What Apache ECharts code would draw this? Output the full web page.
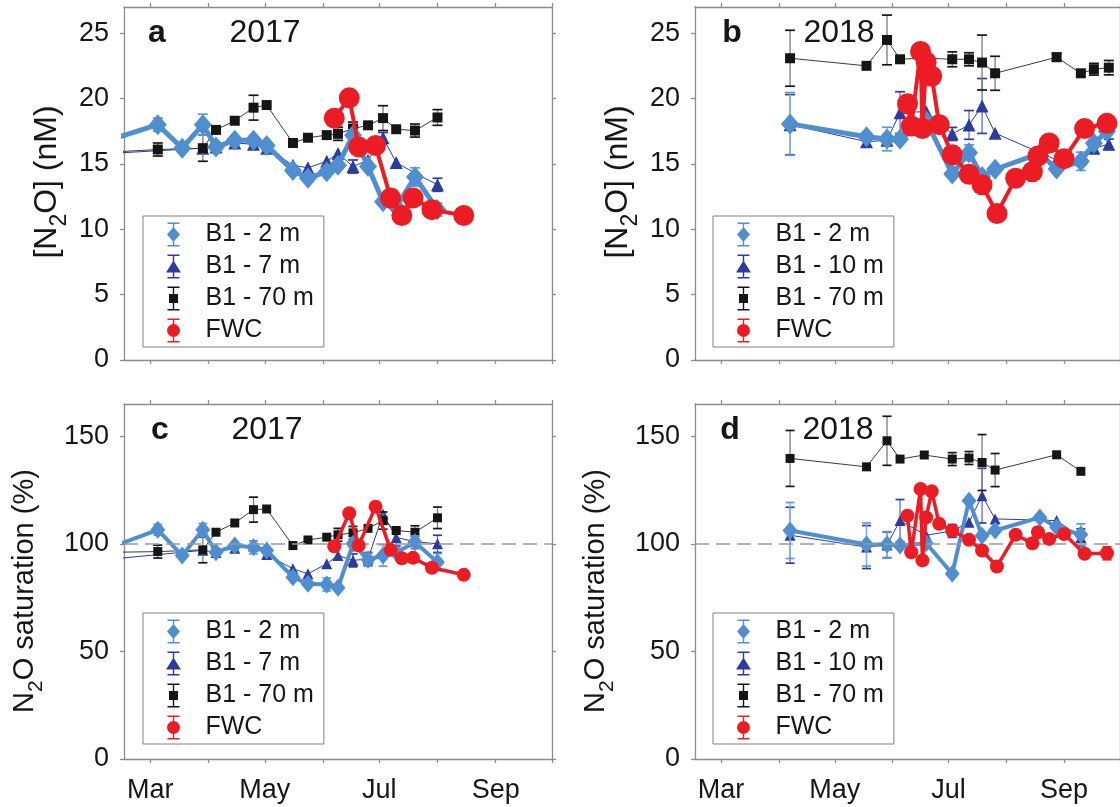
<!DOCTYPE html>
<html>
<head>
<meta charset="utf-8">
<script src="https://cdn.jsdelivr.net/npm/echarts@6/dist/echarts.min.js"></script>
<style>
  html, body { margin: 0; padding: 0; background: #fff; }
  #chart { width: 1120px; height: 807px; }
</style>
</head>
<body>
<div id="chart"></div>
<script>
// ---- Axis ticks ----
const monthTickDates = ['03-01', '04-01', '05-01', '06-01', '07-01', '08-01', '09-01', '10-01'];
const monthLabelDates = ['03-01', '05-01', '07-01', '09-01'];
const monthLabels = ['Mar', 'May', 'Jul', 'Sep'];
const concTicks = [0, 5, 10, 15, 20, 25];
const satTicks = [0, 50, 100, 150];

// ---- 2017, station B1 2 m ----
const dates17_2m = ['01-20', '03-05', '03-18', '03-29', '04-05', '04-15', '04-25', '05-02', '05-16', '05-24', '06-03', '06-09', '06-17', '06-25', '07-03', '07-10', '07-20', '08-01'];
const conc17_2m = [16.0, 18.0, 16.2, 18.0, 16.3, 16.8, 16.8, 16.4, 14.5, 13.9, 14.4, 14.9, 17.2, 14.8, 12.1, 11.7, 14.0, 11.5];
const concErr17_2m = [0, 0.5, 0.3, 0.8, 0, 0, 0, 0, 0, 0, 0, 0, 0.4, 0, 0, 0, 0.7, 0.5];
const sat17_2m = [92.3, 106.5, 94.6, 106.5, 96.1, 99.2, 98.4, 96.9, 84.5, 81.4, 81.1, 79.6, 100.0, 92.6, 94.6, 96.0, 100.7, 91.5];
const satErr17_2m = [0, 2.5, 0, 3, 0, 0, 3, 0, 0, 0, 3, 0, 0, 3, 5, 0, 3, 4];

// ---- 2017, station B1 7 m ----
const dates17_7m = ['01-20', '03-29', '04-05', '04-15', '04-25', '05-02', '05-16', '05-24', '06-03', '06-09', '06-17', '06-25', '07-03', '07-10', '07-20', '08-01'];
const conc17_7m = [15.65, 16.2, 16.3, 16.6, 16.5, 16.2, 14.9, 14.7, 15.2, 15.8, 14.8, 15.3, 17.0, 15.1, 14.3, 13.4];
const concErr17_7m = [0, 0, 0, 0, 0, 0, 0, 0, 0, 0, 0.5, 0, 0.4, 0, 0, 0.5];
const sat17_7m = [91.3, 97, 96, 98, 99, 95, 88.4, 86.1, 90.7, 94.6, 92.3, 93, 113.9, 103, 101, 100];
const satErr17_7m = [0, 0, 0, 0, 0, 0, 0, 0, 0, 0, 3, 3, 0, 4, 0, 4];

// ---- 2017, station B1 70 m ----
const dates17_70m = ['01-20', '03-05', '03-29', '04-05', '04-15', '04-25', '05-02', '05-16', '05-24', '06-03', '06-09', '06-17', '06-25', '07-03', '07-10', '07-20', '08-01'];
const conc17_70m = [15.75, 16.1, 16.2, 17.6, 18.3, 19.3, 19.5, 16.6, 17.0, 17.2, 17.3, 17.7, 17.95, 18.5, 17.65, 17.55, 18.55];
const concErr17_70m = [0, 0.5, 1.0, 0, 0, 0.95, 0, 0, 0, 0, 0.5, 0.5, 0, 0.95, 0, 0.5, 0.6];
const sat17_70m = [95.8, 96.4, 97.2, 105.4, 109.7, 115.9, 116.2, 99.2, 101.8, 103.1, 104.2, 105.1, 107.2, 110.8, 106.2, 105.4, 112.1];
const satErr17_70m = [0, 3, 6, 0, 0, 5.8, 0, 0, 0, 0, 3, 3, 0, 4, 0, 3, 5];

// ---- 2017, FWC ----
const datesFwc17 = ['06-07', '06-15', '06-20', '06-29', '07-07', '07-13', '07-19', '07-29', '08-15'];
const concFwc17 = [18.5, 20.05, 16.3, 16.4, 12.4, 11.05, 12.4, 11.5, 11.05];
const concErrFwc17 = [0, 0, 0, 0, 0, 0, 0, 0, 0];
const satFwc17 = [98.9, 114.2, 99.2, 117.3, 97.2, 93.3, 93.5, 88.9, 85.6];
const satErrFwc17 = [0, 0, 0, 0, 0, 0, 0, 0, 0];

// ---- 2018, station B1 2 m ----
const dates18_2m = ['04-07', '05-18', '05-29', '06-05', '06-19', '07-03', '07-12', '07-19', '07-26', '08-19', '08-28', '09-10', '09-17', '09-24'];
const conc18_2m = [18.06, 17.08, 16.9, 16.88, 18.3, 14.23, 15.86, 14.03, 14.59, 15.8, 14.6, 15.2, 16.58, 17.47];
const concErr18_2m = [2.4, 0, 0.9, 0, 0, 0, 0.6, 0, 0, 0, 0, 0.7, 0, 0];
const sat18_2m = [106.2, 99.7, 99.7, 99.2, 100.3, 86.1, 120, 103.8, 106.2, 112.3, 107.7, 104.3, null, null];
const satErr18_2m = [13, 10, 6, 0, 0, 0, 0, 0, 0, 0, 0, 5, 0, 0];

// ---- 2018, station B1 10 m ----
const dates18_10m = ['04-07', '05-18', '05-29', '06-05', '06-19', '07-03', '07-12', '07-19', '07-26', '08-28', '09-10', '09-17', '09-25'];
const conc18_10m = [18.0, 16.7, 16.8, 18.92, 19.0, 17.29, 17.98, 19.43, 17.35, 15.3, 15.4, 16.2, 16.5];
const concErr18_10m = [2.3, 0, 0, 1.6, 0, 0.5, 1.1, 2.1, 0, 0, 0, 0, 0.4];
const sat18_10m = [104, 98.5, 99.5, 110.8, 104, 106, 110, 122.4, 111.6, 110.8, 103, null, null];
const satErr18_10m = [13, 10, 6, 9.8, 0, 3, 0, 12.7, 0, 0, 4, 0, 0];

// ---- 2018, station B1 70 m ----
const dates18_70m = ['04-07', '05-18', '05-29', '06-05', '06-18', '07-03', '07-12', '07-19', '07-26', '08-28', '09-10', '09-17', '09-25'];
const conc18_70m = [23.08, 22.5, 24.48, 23.0, 23.1, 23.0, 23.0, 22.75, 21.93, 23.16, 21.93, 22.24, 22.36];
const concErr18_70m = [2.14, 0, 1.9, 0, 0, 0.57, 0.5, 2.1, 1.3, 0.3, 0, 0.45, 0.55];
const sat18_70m = [139.7, 135.8, 147.9, 139.4, 141.3, 139.4, 139.9, 137.8, 134.3, 141.4, 133.7, null, null];
const satErr18_70m = [13, 0, 11.4, 0, 0, 3, 3, 13, 7.7, 0, 0, 0, 0];

// ---- 2018, FWC ----
const datesFwc18 = ['06-09', '06-11', '06-16', '06-17', '06-19', '06-22', '06-26', '07-03', '07-12', '07-19', '07-27', '08-06', '08-15', '08-18', '08-24', '09-01', '09-12', '09-24'];
const concFwc18 = [19.6, 17.9, 23.6, 17.7, 22.8, 21.7, 18.0, 15.7, 14.2, 13.4, 11.2, 13.9, 14.4, 15.6, 16.6, 15.4, 17.7, 18.1];
const concErrFwc18 = [0, 0, 0, 0, 0, 0, 0, 0, 0, 0, 0, 0, 0, 0, 0, 0, 0, 0.5];
const satFwc18 = [113.1, 96.1, 125.5, 92.3, 112.3, 124.4, 109.3, 106.2, 101.9, 96.9, 89.5, 104.2, 100.3, 105.4, 102.3, 104.6, 95.4, 95.6];
const satErrFwc18 = [0, 0, 0, 0, 0, 0, 0, 0, 0, 0, 2, 0, 0, 0, 0, 0, 0, 3];

// ---- helpers ----
const FONT = '"Liberation Sans", Arial, Helvetica, sans-serif';
const TEXT = '#161616';
const FRAME = '#8c8c8c';
const cumDays = [0, 31, 59, 90, 120, 151, 181, 212, 243, 273, 304, 334];
const doy = md => { const [m, d] = md.split('-').map(Number); return cumDays[m - 1] + d; };

const xMin = doy('02-15');
const xMax = doy('10-01');
const tickDays = monthTickDates.map(doy);
const labelDays = monthLabelDates.map(doy);

const STYLE = {
  s7:  { z: 2, color: '#2b3c9e', errStem: '#5d6fc4', errCap: '#2b3c9e', symbol: 'triangle',
         top: { size: 13, width: 1 }, bottom: { size: 11, width: 1 } },
  s70: { z: 3, color: '#151515', line: '#3a3a3a', errStem: '#7a7a7a', errCap: '#151515', symbol: 'rect',
         top: { size: 10, width: 1 }, bottom: { size: 9, width: 1 } },
  s2:  { z: 4, color: '#4f8fd0', errStem: '#86b6e4', errCap: '#5b9bd5', symbol: 'diamond',
         top: { size: [18, 21], width: 5 }, bottom: { size: [15, 18], width: 4 } },
  fwc: { z: 5, color: '#ec1c24', errStem: '#ec1c24', errCap: '#ec1c24', symbol: 'circle',
         top: { size: 21, width: 4 }, bottom: { size: 14, width: 3.5 } }
};

const grids = [
  { left: 124, top: 7, width: 428, height: 353 },
  { left: 695, top: 7, width: 428, height: 353 },
  { left: 124, top: 404, width: 428, height: 355 },
  { left: 695, top: 404, width: 428, height: 355 }
];

const xAxes = [];
const yAxes = [];
grids.forEach((g, p) => {
  const isTop = p < 2;
  ['bottom', 'top'].forEach(pos => {
    xAxes.push({
      type: 'value', gridIndex: p, position: pos, min: xMin, max: xMax,
      axisLine: { show: true, onZero: false, lineStyle: { color: FRAME, width: 1.3 } },
      axisTick: { show: true, inside: false, length: 4, customValues: tickDays, lineStyle: { color: FRAME, width: 1.3 } },
      axisLabel: {
        show: pos === 'bottom' && !isTop, customValues: labelDays, margin: 18,
        fontSize: 27, fontFamily: FONT, color: TEXT,
        formatter: v => monthLabels[labelDays.indexOf(v)] || ''
      },
      splitLine: { show: false }
    });
  });
  const ticks = isTop ? concTicks : satTicks;
  ['left', 'right'].forEach(pos => {
    yAxes.push({
      type: 'value', gridIndex: p, position: pos, min: 0, max: isTop ? 27 : 165,
      axisLine: { show: true, onZero: false, lineStyle: { color: FRAME, width: 1.3 } },
      axisTick: { show: true, inside: false, length: 4, customValues: ticks, lineStyle: { color: FRAME, width: 1.3 } },
      axisLabel: {
        show: pos === 'left', customValues: ticks, margin: 15,
        fontSize: 27, fontFamily: FONT, color: TEXT
      },
      splitLine: { show: false }
    });
  });
});

const series = [];
function addPanel(p, isTop, defs) {
  defs.forEach(def => {
    const st = STYLE[def.key];
    const sz = isTop ? st.top : st.bottom;
    const xs = def.dates.map(doy);
    const errData = [];
    xs.forEach((x, k) => {
      if (def.errs[k] > 0 && def.vals[k] != null) errData.push([x, def.vals[k], def.errs[k]]);
    });
    const capHalf = isTop ? 5 : 4.5;
    if (errData.length) {
      series.push({
        type: 'custom', name: def.name + ' sd', xAxisIndex: 2 * p, yAxisIndex: 2 * p,
        z: st.z, silent: true, animation: false, data: errData, encode: { x: 0, y: 1 },
        renderItem: (params, api) => {
          const x = api.value(0), y = api.value(1), e = api.value(2);
          const a = api.coord([x, y + e]);
          const b = api.coord([x, y - e]);
          return {
            type: 'group',
            children: [
              { type: 'line', shape: { x1: a[0], y1: a[1], x2: b[0], y2: b[1] }, style: { stroke: st.errStem, lineWidth: 1.3 } },
              { type: 'line', shape: { x1: a[0] - capHalf, y1: a[1], x2: a[0] + capHalf, y2: a[1] }, style: { stroke: st.errCap, lineWidth: 1.7 } },
              { type: 'line', shape: { x1: b[0] - capHalf, y1: b[1], x2: b[0] + capHalf, y2: b[1] }, style: { stroke: st.errCap, lineWidth: 1.7 } }
            ]
          };
        }
      });
    }
    const s = {
      type: 'line', name: def.name, xAxisIndex: 2 * p, yAxisIndex: 2 * p,
      z: st.z, silent: true, animation: false,
      data: xs.map((x, k) => [x, def.vals[k] == null ? '-' : def.vals[k]]),
      symbol: st.symbol, symbolSize: sz.size, showSymbol: true,
      itemStyle: { color: st.color, borderWidth: 0 },
      lineStyle: { color: st.line || st.color, width: sz.width },
      emphasis: { disabled: true }
    };
    if (!isTop && def.key === 's7') {
      s.markLine = {
        silent: true, symbol: 'none', label: { show: false }, animation: false,
        lineStyle: { color: '#9a9a9a', type: [14, 7], width: 1.5 },
        data: [{ yAxis: 100 }]
      };
    }
    series.push(s);
  });
}

addPanel(0, true, [
  { key: 's7', name: 'B1 - 7 m', dates: dates17_7m, vals: conc17_7m, errs: concErr17_7m },
  { key: 's70', name: 'B1 - 70 m', dates: dates17_70m, vals: conc17_70m, errs: concErr17_70m },
  { key: 's2', name: 'B1 - 2 m', dates: dates17_2m, vals: conc17_2m, errs: concErr17_2m },
  { key: 'fwc', name: 'FWC', dates: datesFwc17, vals: concFwc17, errs: concErrFwc17 }
]);
addPanel(1, true, [
  { key: 's7', name: 'B1 - 10 m', dates: dates18_10m, vals: conc18_10m, errs: concErr18_10m },
  { key: 's70', name: 'B1 - 70 m', dates: dates18_70m, vals: conc18_70m, errs: concErr18_70m },
  { key: 's2', name: 'B1 - 2 m', dates: dates18_2m, vals: conc18_2m, errs: concErr18_2m },
  { key: 'fwc', name: 'FWC', dates: datesFwc18, vals: concFwc18, errs: concErrFwc18 }
]);
addPanel(2, false, [
  { key: 's7', name: 'B1 - 7 m', dates: dates17_7m, vals: sat17_7m, errs: satErr17_7m },
  { key: 's70', name: 'B1 - 70 m', dates: dates17_70m, vals: sat17_70m, errs: satErr17_70m },
  { key: 's2', name: 'B1 - 2 m', dates: dates17_2m, vals: sat17_2m, errs: satErr17_2m },
  { key: 'fwc', name: 'FWC', dates: datesFwc17, vals: satFwc17, errs: satErrFwc17 }
]);
addPanel(3, false, [
  { key: 's7', name: 'B1 - 10 m', dates: dates18_10m, vals: sat18_10m, errs: satErr18_10m },
  { key: 's70', name: 'B1 - 70 m', dates: dates18_70m, vals: sat18_70m, errs: satErr18_70m },
  { key: 's2', name: 'B1 - 2 m', dates: dates18_2m, vals: sat18_2m, errs: satErr18_2m },
  { key: 'fwc', name: 'FWC', dates: datesFwc18, vals: satFwc18, errs: satErrFwc18 }
]);

// ---- legend icons: error bar with marker ----
const BAR = 'M-6,0H6V1.6H-6Z M-0.7,0H0.7V24H-0.7Z M-6,22.4H6V24H-6Z';
const ICON = {
  s2: 'path://' + BAR + ' M0,4.5L6.5,12L0,19.5L-6.5,12Z',
  s7: 'path://' + BAR + ' M0,6L7.5,18L-7.5,18Z',
  s70: 'path://' + BAR + ' M-4.5,7.5H4.5V16.5H-4.5Z',
  fwc: 'path://' + BAR + ' M-6.5,12A6.5,6.5,0,1,1,6.5,12A6.5,6.5,0,1,1,-6.5,12Z'
};
function legendAt(left, top, midName) {
  return {
    orient: 'vertical', left, top, z: 10, selectedMode: false,
    padding: [6, 10, 4, 23], itemGap: 7, itemWidth: 54, itemHeight: 24,
    borderColor: '#808080', borderWidth: 1, backgroundColor: '#fff',
    itemStyle: { borderWidth: 0 },
    textStyle: { fontSize: 25, lineHeight: 24, fontFamily: FONT, color: TEXT },
    data: [
      { name: 'B1 - 2 m', icon: ICON.s2, itemStyle: { color: STYLE.s2.color } },
      { name: midName, icon: ICON.s7, itemStyle: { color: STYLE.s7.color } },
      { name: 'B1 - 70 m', icon: ICON.s70, itemStyle: { color: STYLE.s70.color } },
      { name: 'FWC', icon: ICON.fwc, itemStyle: { color: STYLE.fwc.color } }
    ]
  };
}

// ---- panel letters, years and axis titles ----
function label(x, y, text, bold) {
  return {
    type: 'text', x, y, silent: true, z: 20,
    style: { text, fill: TEXT, fontSize: 32, fontWeight: bold ? 'bold' : 'normal', fontFamily: FONT, align: 'center', verticalAlign: 'middle' }
  };
}
// subscript is pushed down by half of its top padding
function titleRich(size, subSize, drop) {
  return {
    n: { fontSize: size, fontFamily: FONT, lineHeight: size + 6, fill: TEXT },
    s: { fontSize: subSize, fontFamily: FONT, lineHeight: size + 6, fill: TEXT, padding: [drop * 2, 0, 0, 0] }
  };
}
function axisTitle(x, y, text, size, subSize, drop) {
  return {
    type: 'text', x, y, rotation: Math.PI / 2, silent: true, z: 20,
    style: { text, rich: titleRich(size, subSize, drop), fill: TEXT, fontFamily: FONT, fontSize: size, align: 'center', verticalAlign: 'middle' }
  };
}

const option = {
  backgroundColor: '#fff',
  animation: false,
  grid: grids,
  xAxis: xAxes,
  yAxis: yAxes,
  legend: [legendAt(143, 216, 'B1 - 7 m'), legendAt(713, 216, 'B1 - 10 m'), legendAt(143, 613, 'B1 - 7 m'), legendAt(713, 613, 'B1 - 10 m')],
  series,
  graphic: [
    label(157, 33, 'a', true), label(265, 33, '2017', false),
    label(732, 33, 'b', true), label(839, 33, '2018', false),
    label(160, 430, 'c', true), label(267, 430, '2017', false),
    label(730, 430, 'd', true), label(838, 430, '2018', false),
    axisTitle(47, 182, '{n|[N}{s|2}{n|O] (nM)}', 32, 23, 13),
    axisTitle(618, 182, '{n|[N}{s|2}{n|O] (nM)}', 32, 23, 13),
    axisTitle(25, 591, '{n|N}{s|2}{n|O saturation (%)}', 29, 21, 11),
    axisTitle(596, 591, '{n|N}{s|2}{n|O saturation (%)}', 29, 21, 11)
  ]
};

const chart = echarts.init(document.getElementById('chart'), null, { renderer: 'canvas' });
chart.setOption(option);
</script>
</body>
</html>
